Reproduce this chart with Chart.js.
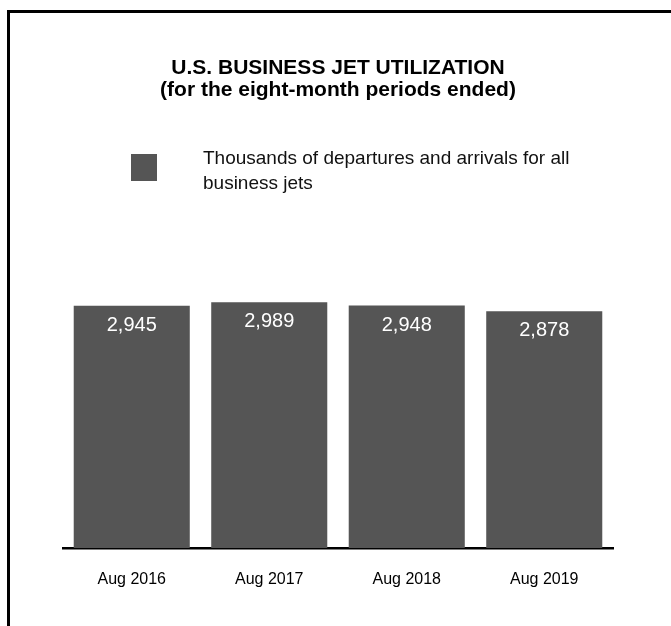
<!DOCTYPE html>
<html>
<head>
<meta charset="utf-8">
<script src="https://cdn.jsdelivr.net/npm/chart.js@4/dist/chart.umd.min.js"></script>
<style>
    html, body { margin: 0; padding: 0; background: #fff; overflow: hidden; }
    #frame { position: absolute; left: 7px; top: 10px; width: 720px; height: 720px; border: 3px solid #000; }
    #wrap { position: absolute; left: 0; top: 0; width: 671px; height: 626px; }
</style>
</head>
<body>
<div id="frame"></div>
<div id="wrap"><canvas id="jetChart" width="671" height="626"></canvas></div>
<script>
// Eight-month periods ended August, thousands of departures and arrivals
const periods = ['Aug 2016', 'Aug 2017', 'Aug 2018', 'Aug 2019'];
const movements = [2945, 2989, 2948, 2878];
const seriesLabel = 'Thousands of departures and arrivals for all business jets';
const titleLines = ['U.S. BUSINESS JET UTILIZATION', '(for the eight-month periods ended)'];

const FONT = '"Liberation Sans", Arial, Helvetica, sans-serif';
const BAR_COLOR = '#555555';

// Value printed inside the top of each bar
const barValues = {
    id: 'barValues',
    afterDatasetsDraw(chart) {
        const ctx = chart.ctx;
        const meta = chart.getDatasetMeta(0);
        ctx.save();
        ctx.font = '20px ' + FONT;
        ctx.fillStyle = '#ffffff';
        ctx.textAlign = 'center';
        ctx.textBaseline = 'alphabetic';
        meta.data.forEach((bar, i) => {
            const v = chart.data.datasets[0].data[i];
            ctx.fillText(v.toLocaleString('en-US'), bar.x, bar.y + 25);
        });
        ctx.restore();
    }
};

// Swatch + wrapped label under the title
const wrappedLegend = {
    id: 'wrappedLegend',
    afterDraw(chart) {
        const ctx = chart.ctx;
        const ds = chart.data.datasets[0];
        ctx.save();
        ctx.fillStyle = ds.backgroundColor;
        ctx.fillRect(131, 154, 26, 27);

        ctx.font = '19px ' + FONT;
        ctx.fillStyle = '#111111';
        ctx.textAlign = 'left';
        ctx.textBaseline = 'alphabetic';
        const words = ds.label.split(' ');
        const lines = [];
        let line = '';
        words.forEach(w => {
            const test = line ? line + ' ' + w : w;
            if (ctx.measureText(test).width > 380 && line) {
                lines.push(line);
                line = w;
            } else {
                line = test;
            }
        });
        lines.push(line);
        lines.forEach((l, i) => ctx.fillText(l, 203, 164 + i * 25));
        ctx.restore();
    }
};

new Chart(document.getElementById('jetChart'), {
    type: 'bar',
    data: {
        labels: periods,
        datasets: [{
            label: seriesLabel,
            data: movements,
            backgroundColor: BAR_COLOR,
            borderWidth: 0,
            categoryPercentage: 1,
            barPercentage: 0.844
        }]
    },
    options: {
        responsive: false,
        animation: false,
        layout: { padding: { left: 63, right: 58, top: 0, bottom: 0 } },
        plugins: {
            legend: { display: false },
            tooltip: { enabled: false },
            title: {
                display: true,
                text: titleLines,
                color: '#000',
                font: { family: FONT, size: 21, weight: 'bold', lineHeight: 1.05 },
                padding: { top: 57, bottom: 159 }
            }
        },
        scales: {
            y: { display: false, min: 0, max: 3500 },
            x: {
                grid: { display: false, drawTicks: false },
                border: { display: true, color: '#000', width: 2.5 },
                ticks: { color: '#000', font: { family: FONT, size: 16 }, padding: 22 },
                afterFit(scale) { scale.height = 78; }
            }
        }
    },
    plugins: [barValues, wrappedLegend]
});
</script>
</body>
</html>
